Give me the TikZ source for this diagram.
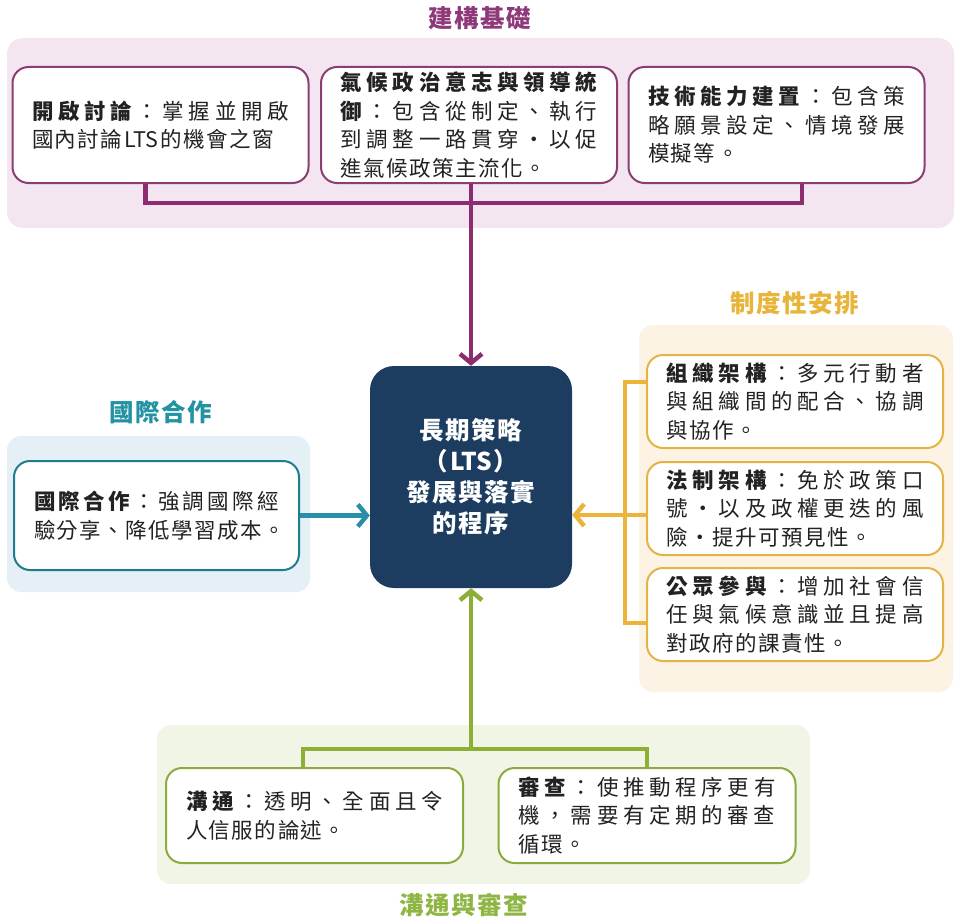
\documentclass[tikz,border=0pt]{standalone}
\usepackage{fontspec}
\setmainfont{Noto Sans CJK TC}
\usetikzlibrary{arrows.meta}
\setlength\parindent{0pt}
\XeTeXinterchartokenstate=1
\newXeTeXintercharclass\cjkcls
\makeatletter
\count@="3000
\loop \XeTeXcharclass\count@=\cjkcls \advance\count@ by 1 \ifnum\count@<"A000 \repeat
\count@="FF00
\loop \XeTeXcharclass\count@=\cjkcls \advance\count@ by 1 \ifnum\count@<"FFF0 \repeat
\makeatother
\XeTeXinterchartoks \cjkcls \cjkcls = {\nobreak\hskip 1.5pt plus 12pt\relax}
\XeTeXinterchartoks \cjkcls 0 = {\nobreak\hskip 2pt\relax}
\XeTeXinterchartoks 0 \cjkcls = {\nobreak\hskip 2pt\relax}
\newcommand\cjkgap{\nobreak\hskip 1.5pt plus 12pt\relax}
\newcommand\lbl[1]{\textbf{#1}\cjkgap}
\newcommand\mdot{\cjkgap\makebox[21.5pt]{·}\cjkgap}

\definecolor{pbg}{HTML}{F3E6F0}
\definecolor{pline}{HTML}{8D2D70}
\definecolor{pbord}{HTML}{8A3E72}
\definecolor{ptitle}{HTML}{8E3A7A}
\definecolor{tbg}{HTML}{E4EFF6}
\definecolor{tline}{HTML}{2A8EA8}
\definecolor{tbord}{HTML}{1F7C8E}
\definecolor{ttitle}{HTML}{2392A2}
\definecolor{gbg}{HTML}{FDF3E4}
\definecolor{gline}{HTML}{EDB43B}
\definecolor{gbord}{HTML}{E3B445}
\definecolor{gtitle}{HTML}{E7B53A}
\definecolor{vbg}{HTML}{F1F5E5}
\definecolor{vline}{HTML}{8DAF36}
\definecolor{vbord}{HTML}{8BAA40}
\definecolor{vtitle}{HTML}{8FB545}
\definecolor{navy}{HTML}{1C3C60}
\definecolor{bodytext}{HTML}{222222}

\tikzset{
  card/.style={draw, fill=white, rounded corners=16pt, line width=2pt,
    align=justify, inner xsep=19.5pt, inner ysep=0pt,
    font=\fontsize{21.5}{28.5}\selectfont, text=bodytext},
  grouptitle/.style={font=\bfseries\fontsize{24.5}{28}\selectfont, inner sep=0pt},
  conn/.style={line width=4.5pt},
  arr/.style={conn, -{Straight Barb[length=9pt,width=22pt]}},
}

\begin{document}
\begin{tikzpicture}[x=1pt,y=-1pt]
\useasboundingbox (0,0) rectangle (960,923);
% panels
\fill[pbg, rounded corners=16pt] (7,38) rectangle (954,228);
\fill[tbg, rounded corners=14pt] (7,436) rectangle (310,592);
\fill[gbg, rounded corners=14pt] (639,325) rectangle (953,692);
\fill[vbg, rounded corners=14pt] (157,725) rectangle (810,884);

% titles
\node[grouptitle, text=ptitle] (tp) at (480,18) {建構基礎};
\node[grouptitle, text=ttitle] (tt) at (160.5,412) {國際合作};
\node[grouptitle, text=gtitle] (tg) at (794.5,303) {制度性安排};
\node[grouptitle, text=vtitle] (tv) at (463.5,905) {溝通與審查};

% top cards
\node[card, draw=pbord, text width=257pt, minimum height=116pt] (b1) at (160.5,125)
  {\lbl{開啟討論}：掌握並開啟\linebreak 國內討論LTS的機會之窗};
\node[card, draw=pbord, text width=257pt, minimum height=116pt] (b2) at (469,125)
  {\textbf{氣候政治意志與領導統\linebreak 御}\cjkgap：包含從制定、執行\linebreak 到調整一路貫穿\mdot 以促\linebreak 進氣候政策主流化。};
\node[card, draw=pbord, text width=257pt, minimum height=116pt] (b3) at (776.5,125)
  {\lbl{技術能力建置}：包含策\linebreak 略願景設定、情境發展\linebreak 模擬等。};

% central
\node[fill=navy, rounded corners=24pt, minimum width=202pt, minimum height=222pt,
  text=white, font=\bfseries\fontsize{24.5}{31}\selectfont, align=center] (lts) at (471,477)
  {長期策略\\（LTS）\\發展與落實\\的程序};

% left card
\node[card, draw=tbord, text width=245pt, inner xsep=20pt, minimum height=109pt] (intl) at (156.5,515.5)
  {\lbl{國際合作}：強調國際經\linebreak 驗分享、降低學習成本。};

% right cards
\node[card, draw=gbord, text width=257pt, minimum height=93pt] (r1) at (795,401.5)
  {\lbl{組織架構}：多元行動者\linebreak 與組織間的配合、協調\linebreak 與協作。};
\node[card, draw=gbord, text width=257pt, minimum height=93pt] (r2) at (795,508.5)
  {\lbl{法制架構}：免於政策口\linebreak 號\mdot 以及政權更迭的風\linebreak 險\mdot 提升可預見性。};
\node[card, draw=gbord, text width=257pt, minimum height=93pt] (r3) at (795,614.5)
  {\lbl{公眾參與}：增加社會信\linebreak 任與氣候意識並且提高\linebreak 對政府的課責性。};

% bottom cards
\node[card, draw=vbord, text width=257pt, inner xsep=20pt, minimum height=95pt] (c1) at (314.5,815.5)
  {\lbl{溝通}：透明、全面且令\linebreak 人信服的論述。};
\node[card, draw=vbord, text width=257pt, inner xsep=20pt, minimum height=95pt] (c2) at (647,815.5)
  {\lbl{審查}：使推動程序更有\linebreak 機，需要有定期的審查\linebreak 循環。};

% purple connectors
\coordinate (phub) at (471,203);
\draw[conn, pline] ([xshift=-15pt]b1.south) |- (phub) -| ([xshift=25.5pt]b3.south);
\draw[arr, pline] (b2.south -| lts.north) -- (lts.north);

% teal connector
\draw[arr, tline] (intl.east) -- (intl.east -| lts.west);

% gold connectors
\coordinate (gtop) at (625,382);
\coordinate (gmid) at (625,515);
\coordinate (gbot) at (625,623);
\draw[conn, gline] (gtop -| r1.west) -- (gtop) -- (gbot) -- (gbot -| r3.west);
\draw[conn, gline] (gmid -| r2.west) -- (gmid);
\draw[arr, gline] (gmid) -- (gmid -| lts.east);

% green connectors
\coordinate (vhub) at (471,749);
\draw[conn, vline] ([xshift=-11.5pt]c1.north) |- (vhub) -| (c2.north);
\draw[arr, vline] (vhub) -- (lts.south);
\end{tikzpicture}
\end{document}
